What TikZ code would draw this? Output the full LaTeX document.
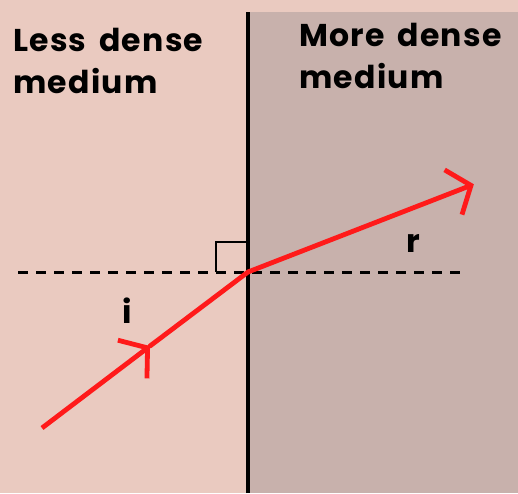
\documentclass[tikz,border=0pt]{standalone}
\usepackage{fontspec}
\setmainfont{Poppins}
\newfontfamily\titlefont{Poppins}[LetterSpace=4,WordSpace=1.6]
\usetikzlibrary{arrows.meta,positioning,calc}
\definecolor{lessbg}{HTML}{EACAC0}
\definecolor{morebg}{HTML}{C8B1AC}
\definecolor{rayred}{HTML}{FF1A1A}
\begin{document}
\begin{tikzpicture}[x=1pt,y=1pt,
    title/.style={anchor=north west,align=left,inner sep=0pt,
      font=\titlefont\bfseries\fontsize{31.5}{42}\selectfont},
    anglab/.style={font=\bfseries\fontsize{32}{32}\selectfont,inner sep=0pt},
    ray/.style={rayred,line width=4.8pt},
    barb/.style={-{Straight Barb[length=19pt,width=48pt,line width=4.8pt]}}]
      % media
      \fill[lessbg] (0,0) rectangle (518,493);
      \fill[morebg] (248,0) rectangle (518,481);
      \useasboundingbox (0,0) rectangle (518,493);
      \node[title] (less) at (13,465) {Less dense\\medium};
      \node[title] (more) at (299,470) {More dense\\medium};
      % points on the rays
      \coordinate (src) at (42,65);
      \coordinate (mid) at (150,147);
      \coordinate (hit) at (248,221);
      \coordinate (tip) at (472,308);
      \coordinate (nl) at (18,221);
      \coordinate (nr) at (462,221);
      % normal, boundary and right angle
      \draw[line width=3pt,dash pattern=on 10pt off 8pt] (nl)--(nr);
      \draw[line width=1.5pt] (216,221)--(216,251)--(248,251);
      \draw[line width=4pt] (248,0)--(248,481);
      % incident and refracted rays
      \draw[ray,barb] (src)--(mid);
      \draw[ray,line cap=round] (mid)--(hit);
      \draw[ray,barb,shorten >=-2pt] (hit)--(tip);
      \node[anglab] (i) at (127,182) {i};
      \node[anglab] (r) at (413,250) {r};
    \end{tikzpicture}
\end{document}
